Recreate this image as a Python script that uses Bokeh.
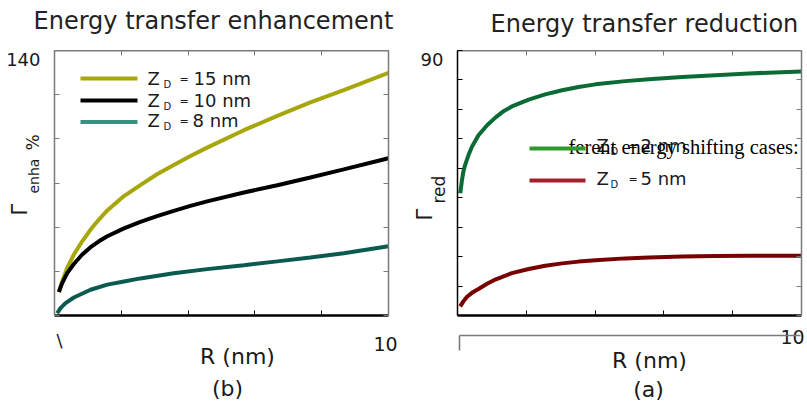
from bokeh.plotting import figure
from bokeh.models import Range1d, LinearAxis, FixedTicker, Label, BoxAnnotation
from bokeh.layouts import row, column
from bokeh.embed import file_html
from bokeh.resources import INLINE

# ---------------- data ----------------
# left panel (b): energy transfer enhancement, Gamma_enha %, vs R (nm)
enh_x15 = [0.13, 0.23, 0.38, 0.58, 0.83, 1.08, 1.33, 1.58, 2.08, 2.57, 3.07, 3.57, 4.07, 4.57,
           5.67, 6.67, 7.66, 8.66, 10.0]
enh_y15 = [12.4, 18.0, 25.1, 32.2, 39.2, 45.4, 50.7, 55.5, 63.1, 68.9, 74.6, 79.5, 84.3, 88.7,
           97.9, 105.5, 112.6, 119.1, 128.2]
enh_x10 = [0.13, 0.23, 0.38, 0.58, 0.83, 1.08, 1.33, 1.58, 2.08, 2.57, 3.07, 3.57, 4.07, 4.57,
           5.67, 6.67, 7.66, 8.66, 10.0]
enh_y10 = [12.4, 17.1, 22.4, 27.2, 32.2, 36.1, 39.2, 41.9, 46.0, 49.5, 52.5, 55.3, 57.9, 60.3,
           65.0, 68.8, 72.9, 77.2, 83.1]
enh_x8 = [0.08, 0.18, 0.33, 0.58, 1.08, 1.58, 2.08, 2.57, 3.57, 4.57, 5.67, 6.67, 7.66, 8.66, 10.0]
enh_y8 = [1.2, 3.9, 6.5, 9.5, 13.6, 16.3, 18.0, 19.6, 22.3, 24.5, 26.6, 28.6, 30.6, 32.9, 36.6]

# right panel (a): energy transfer reduction, Gamma_red, vs R (nm)
red_x2 = [0.08, 0.13, 0.17, 0.22, 0.32, 0.42, 0.61, 0.86, 1.10, 1.34, 1.58, 2.07, 2.55, 3.04,
          3.52, 4.01, 4.88, 5.56, 6.53, 7.50, 8.47, 10.0]
red_y2 = [41.5, 46.0, 48.8, 51.1, 54.5, 57.3, 61.2, 64.6, 67.2, 69.4, 71.0, 73.3, 75.1, 76.5,
          77.6, 78.5, 79.6, 80.2, 81.0, 81.6, 82.2, 82.9]
red_x5 = [0.08, 0.17, 0.27, 0.42, 0.61, 0.86, 1.10, 1.34, 1.58, 2.07, 2.55, 3.04, 3.52, 4.01,
          4.88, 5.56, 6.53, 7.50, 8.47, 10.0]
red_y5 = [3.1, 4.8, 6.3, 7.7, 9.0, 10.8, 12.2, 13.3, 14.4, 15.8, 16.9, 17.7, 18.3, 18.8,
          19.4, 19.7, 20.0, 20.2, 20.3, 20.3]

x_minor = [2, 4, 6, 8]
enh_y_ticks = [0, 140 / 6, 280 / 6, 70, 560 / 6, 700 / 6, 140]
red_y_ticks = [0, 10, 20, 30, 40, 50, 60, 70, 80, 90]
enh_top_label = "140"
red_top_label = "90"
x_end_label = "10"

legend_enh = ["15 nm", "10 nm", "8 nm"]
legend_red = ["2 nm", "5 nm"]

SANS = "DejaVu Sans"
GRAY = "#7a7a7a"
TXT = "#1a1a1a"

# global layout (window pixels)
FRAME_TOP, FRAME_BOT = 50, 315      # plotting frames of both panels
TOP_H = FRAME_TOP                   # strip above the panels (titles)
MID_TOP, MID_BOT = FRAME_TOP, 326
MID_H = MID_BOT - MID_TOP
BOT_H = 402 - MID_BOT


def strip(width, height, top=0, bottom=0):
    s = figure(width=width, height=height, title_location=None,
               min_border_left=0, min_border_right=0,
               min_border_top=top, min_border_bottom=bottom,
               x_axis_location=None, y_axis_location=None,
               output_backend="svg", toolbar_location=None)
    s.grid.visible = False
    s.outline_line_color = None
    s.border_fill_color = "white"
    s.background_fill_color = "white"
    return s


def make_fig(ox, width, fl, fr, yr):
    p = figure(width=width, height=MID_H, frame_width=fr - fl, frame_height=FRAME_BOT - FRAME_TOP,
               x_range=Range1d(0, 10), y_range=Range1d(*yr), title_location=None,
               x_axis_location=None, y_axis_location=None,
               output_backend="svg", toolbar_location=None,
               min_border_left=fl - ox, min_border_right=ox + width - fr,
               min_border_top=FRAME_TOP - MID_TOP, min_border_bottom=MID_BOT - FRAME_BOT)
    p.grid.visible = False
    p.outline_line_color = None
    p.background_fill_color = "white"
    p.border_fill_color = "white"
    return p


def add_axis(p, side, ticks, color, lw):
    ax = LinearAxis(ticker=FixedTicker(ticks=[], minor_ticks=ticks))
    ax.axis_line_color = color
    ax.axis_line_width = lw
    ax.minor_tick_line_color = color
    ax.minor_tick_line_width = 1
    ax.minor_tick_in = 5
    ax.minor_tick_out = 0
    ax.major_tick_in = 0
    ax.major_tick_out = 0
    ax.major_label_text_font_size = "0px"
    ax.major_label_standoff = 0
    p.add_layout(ax, side)


def lab(p, ox, oy_bottom, X, Y, text, size, font=SANS, align="left", angle=0, color=TXT):
    """X, Y: window pixel position of the text baseline anchor; ox / oy_bottom: window left / bottom of the frame."""
    shift = 0.27 * size  # compensation for the svg baseline placement
    if angle == 0:
        Y = Y - shift
    else:
        X = X - shift
    p.add_layout(Label(x=X - ox, y=oy_bottom - Y, x_units="screen", y_units="screen",
                       text=text, text_font=font, text_font_size=f"{size}px",
                       text_align=align, text_baseline="alphabetic",
                       angle=angle, angle_units="deg", text_color=color))


def box(p, ox, oy_bottom, X0, X1, Y0, Y1, color):
    p.add_layout(BoxAnnotation(left=X0 - ox, right=X1 - ox, bottom=oy_bottom - Y1, top=oy_bottom - Y0,
                               left_units="screen", right_units="screen",
                               bottom_units="screen", top_units="screen",
                               fill_color=color, fill_alpha=1.0, line_color=None, level="overlay"))


# ---------------- top strip: titles ----------------
top = strip(807, TOP_H)
lab(top, 0, TOP_H, 33, 27, "Energy transfer enhancement", 24, color="#222222")
lab(top, 0, TOP_H, 490, 30, "Energy transfer reduction", 24, color="#222222")

# ---------------- left strip: y label of (b) ----------------
LS_W = 44
ls = strip(LS_W, MID_H, top=FRAME_TOP - MID_TOP, bottom=MID_BOT - FRAME_BOT)
lab(ls, 0, FRAME_BOT, 40, 64, enh_top_label, 18, align="right")
lab(ls, 0, FRAME_BOT, 25, 215, "\u0393", 21, angle=90)
lab(ls, 0, FRAME_BOT, 37, 193, "enha", 14, angle=90)
lab(ls, 0, FRAME_BOT, 37, 150, "%", 17, angle=90)

# ---------------- left panel (b) ----------------
P1_X, P1_W = 44, 348
FL1, FR1 = 54, 388
p1 = make_fig(P1_X, P1_W, FL1, FR1, (0, 140))
add_axis(p1, "above", x_minor, GRAY, 2)
add_axis(p1, "right", enh_y_ticks, GRAY, 1.5)
add_axis(p1, "left", enh_y_ticks, GRAY, 1.5)
add_axis(p1, "below", x_minor, "black", 2.5)

c15, c10, c8 = "#a7a70c", "#000000", "#0b5a50"
p1.line(enh_x15, enh_y15, line_width=4, line_color=c15)
p1.line(enh_x10, enh_y10, line_width=4, line_color=c10)
p1.line(enh_x8, enh_y8, line_width=4, line_color=c8)

for i, (txt, col) in enumerate(zip(legend_enh, [c15, c10, "#3d8f82"])):
    base = [82.5, 104.5, 124.5][i]
    ly = [78, 100, 121.5][i]
    box(p1, FL1, FRAME_BOT, 80, 137, ly - 2, ly + 2, col)
    lab(p1, FL1, FRAME_BOT, 147, base, "Z", 18)
    lab(p1, FL1, FRAME_BOT, 163, base + 4, "D", 10)
    lab(p1, FL1, FRAME_BOT, 179, base - 1, "=", 11)
    lab(p1, FL1, FRAME_BOT, 192 if i == 2 else 193, base, txt, 18)

# ---------------- middle strip: y label of (a) ----------------
MS_X, MS_W = 392, 60
ms = strip(MS_W, MID_H, top=FRAME_TOP - MID_TOP, bottom=MID_BOT - FRAME_BOT)
lab(ms, MS_X, FRAME_BOT, 443, 64, red_top_label, 18, align="right")
lab(ms, MS_X, FRAME_BOT, 430, 220, "\u0393", 21, angle=90)
lab(ms, MS_X, FRAME_BOT, 443, 203, "red", 17, angle=90)

# ---------------- right panel (a) ----------------
P2_X, P2_W = 452, 355
FL2, FR2 = 457, 801
p2 = make_fig(P2_X, P2_W, FL2, FR2, (0, 90))
add_axis(p2, "above", x_minor, GRAY, 2)
add_axis(p2, "right", red_y_ticks, GRAY, 1.5)
add_axis(p2, "left", red_y_ticks, "black", 1.5)
add_axis(p2, "below", x_minor, "black", 2.5)

c2, c5 = "#0a6b35", "#780000"
p2.line(red_x2, red_y2, line_width=4, line_color=c2)
p2.line(red_x5, red_y5, line_width=4, line_color=c5)

for i, (txt, col) in enumerate(zip(legend_red, ["#2e9a2e", "#a3202d"])):
    base = [150, 183][i]
    ly = [148, 180][i]
    box(p2, FL2, FRAME_BOT, 529, 585, ly - 2, ly + 2, col)
    lab(p2, FL2, FRAME_BOT, 596, base, "Z", 18)
    lab(p2, FL2, FRAME_BOT, 610, base + 4, "D", 10)
    lab(p2, FL2, FRAME_BOT, 628, base - 1, "=", 11)
    lab(p2, FL2, FRAME_BOT, 640, base, txt, 18)

lab(p2, FL2, FRAME_BOT, 568, 152, "ferent energy shifting cases:", 20.5, font="Liberation Serif", color="#000000")

# ---------------- bottom strip: x labels ----------------
bot = strip(807, BOT_H)
lab(bot, 0, 402, 59, 345, "\\", 18, align="center")
lab(bot, 0, 402, 385, 349, x_end_label, 19, align="center")
lab(bot, 0, 402, 237, 362, "R (nm)", 22, align="center")
lab(bot, 0, 402, 227, 394, "(b)", 22, align="center")
box(bot, 0, 402, 459, 800, 334.2, 335.8, GRAY)
box(bot, 0, 402, 458.2, 459.8, 335, 350, GRAY)
lab(bot, 0, 402, 792, 342, x_end_label, 19, align="center")
lab(bot, 0, 402, 649, 366, "R (nm)", 22, align="center")
lab(bot, 0, 402, 648, 395, "(a)", 22, align="center")

layout = column(top, row(ls, p1, ms, p2, spacing=0), bot, spacing=0)
open("out.html", "w").write(file_html(layout, INLINE))
